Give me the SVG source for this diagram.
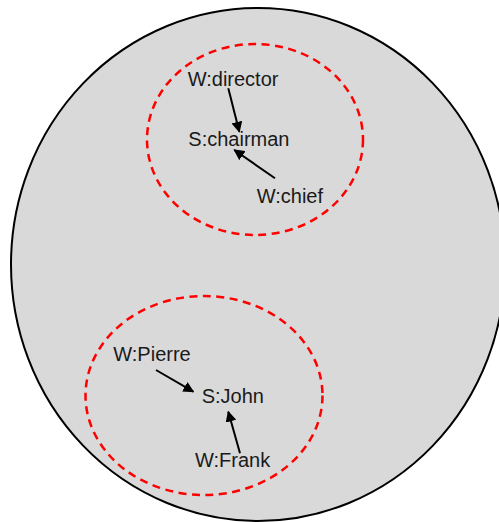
<svg xmlns="http://www.w3.org/2000/svg" width="499" height="522" viewBox="0 0 499 522">
<style>
.lbl{font-family:"Liberation Sans",Arial,sans-serif;font-size:20px;fill:#1a1a1a}
.grp{fill:none;stroke:#ff0000;stroke-width:2.5;stroke-dasharray:8 5.5}
.edge{stroke:#000;stroke-width:2;fill:none;marker-end:url(#ah)}
</style>
<defs>
<marker id="ah" viewBox="0 0 10 10" refX="9" refY="5" markerWidth="5.5" markerHeight="5.5" orient="auto" markerUnits="strokeWidth">
<path d="M0,0 L10,5 L0,10 z" fill="#000"/>
</marker>
</defs>
<g id="world">
<ellipse cx="258" cy="264.5" rx="247" ry="256.5" fill="#d9d9d9" stroke="#000" stroke-width="2"/>
</g>
<g id="group-top"><ellipse class="grp" cx="255" cy="139.5" rx="108" ry="95.5"/></g>
<g id="group-bottom"><ellipse class="grp" cx="204" cy="395.5" rx="118.5" ry="99.5"/></g>
<g id="connectors">
<line class="edge" x1="228.3" y1="88.3" x2="239.3" y2="131.7"/>
<line class="edge" x1="275" y1="178.3" x2="234.3" y2="150"/>
<line class="edge" x1="156" y1="370" x2="193.3" y2="391.7"/>
<line class="edge" x1="240" y1="453.3" x2="228.3" y2="411.7"/>
</g>
<g id="n-director"><text class="lbl" x="187.7" y="85.5">W:director</text></g>
<g id="n-chairman"><text class="lbl" x="188.3" y="146">S:chairman</text></g>
<g id="n-chief"><text class="lbl" x="256.7" y="202.5">W:chief</text></g>
<g id="n-pierre"><text class="lbl" x="113.3" y="361">W:Pierre</text></g>
<g id="n-john"><text class="lbl" x="201.7" y="402.7">S:John</text></g>
<g id="n-frank"><text class="lbl" x="195" y="467.3">W:Frank</text></g>
</svg>
